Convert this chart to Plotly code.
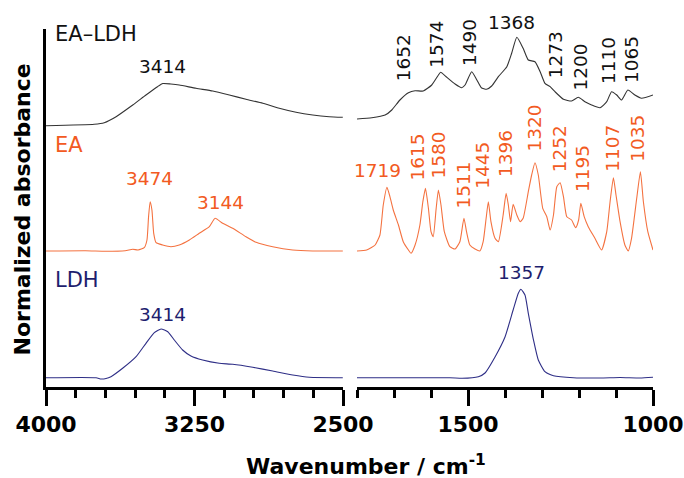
import plotly.graph_objects as go

# ---------------- data (wavenumber in cm-1, normalized absorbance incl. stacking offset) -------------
EALDH_HI_WN = [4000, 3756, 3706, 3646, 3562, 3495, 3437, 3410, 3370, 3327, 3242, 3158, 3074, 2990,
               2905, 2822, 2737, 2653, 2569, 2501]
EALDH_HI_A = [261.3, 262.7, 264.3, 270.3, 282, 292, 300.3, 303.5, 303.0, 302, 298.7, 296, 292, 287.7,
              283.7, 278.7, 274.7, 272, 270.3, 269.7]

EALDH_LO_WN = [1800, 1760, 1724, 1706, 1684, 1661, 1643, 1621, 1598, 1580, 1574, 1559, 1535, 1517, 1508,
               1490, 1476, 1464, 1450, 1436, 1418, 1395, 1382, 1368, 1351, 1337, 1319, 1305, 1292, 1278,
               1265, 1242, 1220, 1202, 1184, 1166, 1143, 1125, 1112, 1098, 1085, 1068, 1049, 1031, 1000]
EALDH_LO_A = [268, 269.3, 272, 277, 287, 294.3, 296.3, 296, 302, 312, 314.7, 310.3, 303, 299.3, 302,
              315.3, 307, 299.3, 297.7, 301, 310.3, 320.3, 333.7, 349.7, 338.7, 327, 325.3, 315.3, 303.7, 300.3,
              295.3, 287.7, 286, 289.7, 285.3, 282, 279.3, 285.3, 295.3, 292, 287, 297, 292, 288.7, 292]

EA_HI_WN = [4000, 3800, 3700, 3600, 3562, 3535, 3504, 3490, 3482, 3474, 3465, 3456, 3444, 3411, 3369,
            3327, 3276, 3226, 3175, 3146, 3108, 3057, 2990, 2939, 2855, 2754, 2653, 2501]
EA_HI_A = [136, 136.3, 135.8, 136.3, 137.7, 137, 139.3, 147, 170.3, 185.3, 177, 153.7, 144.3, 142, 140.3,
           142, 147, 153.7, 160.3, 168.7, 163.7, 158.7, 150.3, 144.7, 140.3, 137, 136, 136]

EA_LO_WN = [1800, 1774, 1751, 1738, 1729, 1719, 1711, 1702, 1688, 1675, 1661, 1654, 1643, 1630, 1622,
            1615, 1607, 1600, 1594, 1586, 1580, 1573, 1564, 1549, 1535, 1522, 1511, 1504, 1495, 1481,
            1468, 1459, 1451, 1445, 1438, 1427, 1418, 1405, 1397, 1391, 1385, 1378, 1368, 1359, 1351,
            1337, 1328, 1319, 1310, 1298, 1287, 1278, 1269, 1260, 1251, 1242, 1233, 1220, 1209, 1201,
            1195, 1186, 1175, 1157, 1139, 1125, 1116, 1107, 1100, 1089, 1076, 1067, 1058, 1044, 1034,
            1026, 1014, 1000]
EA_LO_A = [136, 137, 142, 152, 182, 199.7, 190.3, 177, 162, 145.3, 137, 133.7, 142, 162, 185.3,
           198.7, 178.7, 155.3, 150.3, 178.7, 197, 182, 155.3, 140.3, 138, 145.3, 168.7, 155.3, 142, 138,
           136, 145.3, 168.7, 185.3, 165.3, 148.7, 145.3, 172, 193.7, 182, 165.3, 182.7, 172, 165.3, 168.7,
           195.3, 212, 224.3, 212, 178.7, 170.3, 157, 172, 200.3, 204.3, 190.3, 170.3, 167, 159.3, 167,
           183.7, 170.3, 160.3, 148.7, 137, 155.3, 185.3, 209.3, 192, 165.3, 142, 136, 148.7, 188.7, 215.3,
           185.3, 155.3, 137]

LDH_HI_WN = [4000, 3747, 3722, 3697, 3672, 3613, 3545, 3495, 3453, 3419, 3385, 3352, 3310, 3268, 3209,
             3125, 3057, 2956, 2855, 2754, 2670, 2501]
LDH_HI_A = [9.3, 9.3, 8, 8.5, 10.3, 18.7, 30.3, 43.7, 54.3, 58, 55.3, 47, 37, 31, 27,
            23.7, 22.7, 19.7, 16, 12, 9.7, 9.3]

LDH_LO_WN = [1800, 1549, 1516, 1472, 1454, 1427, 1400, 1378, 1364, 1357, 1346, 1337, 1323, 1310, 1292,
             1269, 1215, 1143, 1089, 1035, 1000]
LDH_LO_A = [9.3, 9.3, 8.7, 10.3, 14, 30, 50, 77, 93.7, 97.7, 92, 73.7, 47, 27, 15.3,
            11.3, 9.3, 9.0, 9.5, 9.0, 9.7]

SAMPLE_NAMES = ["EA\u2013LDH", "EA", "LDH"]
X_TICKS_HI = [4000, 3250, 2500]
X_TICKS_LO = [1500, 1000]

EALDH_PEAKS = ["3414", "1652", "1574", "1490", "1368", "1273", "1200", "1110", "1065"]
EA_PEAKS = ["3474", "3144", "1719", "1615", "1580", "1511", "1445", "1396", "1320", "1252", "1195", "1107", "1035"]
LDH_PEAKS = ["3414", "1357"]

# ---------------- styling ----------------
C_EALDH_LINE, C_EALDH_TXT = "#333333", "#111111"
C_EA_LINE, C_EA_TXT = "#F47240", "#F25A22"
C_LDH_LINE, C_LDH_TXT = "#2E2E86", "#1E1E6E"
FONT = "DejaVu Sans"

W, H = 684, 478
L, R, T, B = 46, 653, 29, 387  # plot area in px
PW, PH = R - L, B - T


def px(x, y):
    return (x - L) / PW, (B - y) / PH


fig = go.Figure()
for wn, a, col, ax in [
    (EALDH_HI_WN, EALDH_HI_A, C_EALDH_LINE, "x"), (EALDH_LO_WN, EALDH_LO_A, C_EALDH_LINE, "x2"),
    (EA_HI_WN, EA_HI_A, C_EA_LINE, "x"), (EA_LO_WN, EA_LO_A, C_EA_LINE, "x2"),
    (LDH_HI_WN, LDH_HI_A, C_LDH_LINE, "x"), (LDH_LO_WN, LDH_LO_A, C_LDH_LINE, "x2"),
]:
    fig.add_trace(go.Scatter(x=wn, y=a, mode="lines", xaxis=ax, yaxis="y",
                             line=dict(color=col, width=1.1, shape="spline", smoothing=0.5),
                             showlegend=False, hoverinfo="skip"))

split1 = (343 - L) / PW
split2 = (357 - L) / PW
axis_common = dict(showline=True, linecolor="black", linewidth=2.5, ticks="outside", ticklen=16,
                   tickwidth=2.5, tickcolor="black", showgrid=False, zeroline=False, automargin=False,
                   tickfont=dict(family=FONT, size=22, color="black", weight="bold"))
fig.update_layout(
    width=W, height=H, margin=dict(l=L, r=W - R, t=T, b=H - B, autoexpand=False),
    paper_bgcolor="white", plot_bgcolor="white",
    xaxis=dict(domain=[0, split1], range=[4000, 2500], tickmode="array", tickvals=X_TICKS_HI,
               ticktext=[str(v) for v in X_TICKS_HI],
               minor=dict(tickmode="linear", tick0=2500, dtick=150, ticks="outside", ticklen=8,
                          tickwidth=2.5, tickcolor="black"), anchor="y", **axis_common),
    xaxis2=dict(domain=[split2, 1], range=[1800, 1000], tickmode="array", tickvals=X_TICKS_LO,
                ticktext=[str(v) for v in X_TICKS_LO],
                minor=dict(tickmode="linear", tick0=1000, dtick=100, ticks="outside", ticklen=8,
                           tickwidth=2.5, tickcolor="black"), anchor="y", **axis_common),
    yaxis=dict(range=[0, PH], showline=True, linecolor="black", linewidth=2.5, ticks="",
               showticklabels=False, showgrid=False, zeroline=False, automargin=False),
)

ann = []


def add(text, x, y, color, size=18.5, angle=0, bold=False, xanchor="center"):
    xp, yp = px(x, y)
    ann.append(dict(text=text, x=xp, y=yp, xref="paper", yref="paper", showarrow=False,
                    xanchor=xanchor, yanchor="middle", textangle=angle,
                    font=dict(family=FONT, size=size, color=color, weight="bold" if bold else "normal")))


add(SAMPLE_NAMES[0], 53, 34, C_EALDH_TXT, size=21, xanchor="left")
add(SAMPLE_NAMES[1], 53, 145, C_EA_TXT, size=21, xanchor="left")
add(SAMPLE_NAMES[2], 53, 280, C_LDH_TXT, size=21, xanchor="left")

ealdh_pos = [(162.7, 66.7, 0), (403.8, 57.5, -90), (436.2, 44.5, -90), (469.5, 42.5, -90), (511.7, 22.5, 0),
             (556.2, 55, -90), (579.5, 67, -90), (609.2, 60.8, -90), (631, 60, -90)]
for t, (x, y, a) in zip(EALDH_PEAKS, ealdh_pos):
    add(t, x, y, C_EALDH_TXT, angle=a)

ea_pos = [(149.7, 179, 0), (220, 202.5, 0), (377.5, 170.5, 0), (417.8, 156.7, -90), (437.5, 155, -90),
          (462.5, 185, -90), (481.7, 165, -90), (504.8, 153.3, -90), (534.2, 128.3, -90), (559.2, 149, -90),
          (582, 169, -90), (612.5, 148.3, -90), (637.5, 138.3, -90)]
for t, (x, y, a) in zip(EA_PEAKS, ea_pos):
    add(t, x, y, C_EA_TXT, angle=a)

ldh_pos = [(162.7, 314.3, 0), (521, 272.5, 0)]
for t, (x, y, a) in zip(LDH_PEAKS, ldh_pos):
    add(t, x, y, C_LDH_TXT, angle=a)

add("Wavenumber / cm<sup>-1</sup>", 366, 465, "black", size=22, bold=True)
add("Normalized absorbance", 22, 209.5, "black", size=22, angle=-90, bold=True)

fig.update_layout(annotations=ann)
fig.write_html("out.html")
